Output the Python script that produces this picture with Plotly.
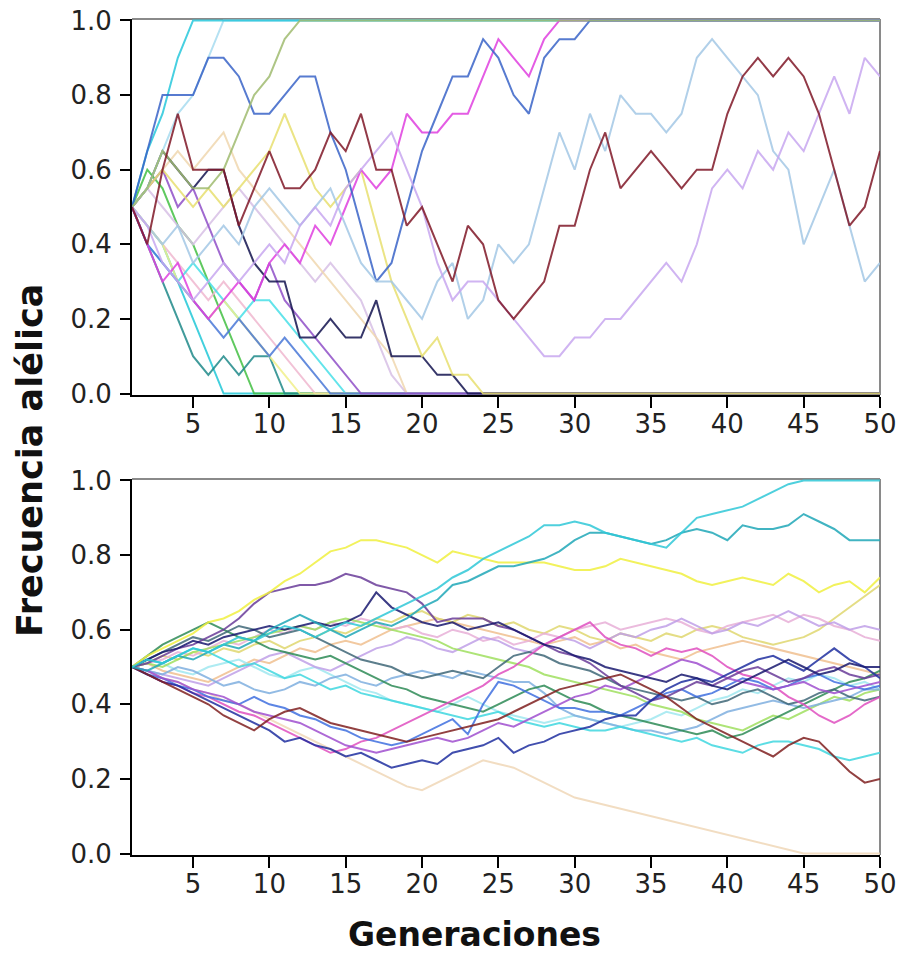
import plotly.graph_objects as go

# ---------------- data (allele frequency, percent) ----------------
GEN_TICKS = [5, 10, 15, 20, 25, 30, 35, 40, 45, 50]
Y_TICKS = [0.0, 0.2, 0.4, 0.6, 0.8, 1.0]
Y_TICK_LABELS = ["0.0", "0.2", "0.4", "0.6", "0.8", "1.0"]

# top panel: small population
T01 = [50,65,75,90,100,100,100,100,100,100,
       100,100,100,100,100,100,100,100,100,100,
       100,100,100,100,100,100,100,100,100,100,
       100,100,100,100,100,100,100,100,100,100,
       100,100,100,100,100,100,100,100,100,100]
T02 = [50,55,65,75,80,90,100,100,100,100,
       100,100,100,100,100,100,100,100,100,100,
       100,100,100,100,100,100,100,100,100,100,
       100,100,100,100,100,100,100,100,100,100,
       100,100,100,100,100,100,100,100,100,100]
T03 = [50,65,80,80,80,90,90,85,75,75,
       80,85,85,70,60,45,30,35,50,65,
       75,85,85,95,90,80,75,90,95,95,
       100,100,100,100,100,100,100,100,100,100,
       100,100,100,100,100,100,100,100,100,100]
T04 = [50,40,30,35,25,20,25,30,25,35,
       40,35,45,40,50,60,55,60,75,70,
       70,75,75,85,95,90,85,95,100,100,
       100,100,100,100,100,100,100,100,100,100,
       100,100,100,100,100,100,100,100,100,100]
T05 = [50,55,65,60,55,55,60,70,80,85,
       95,100,100,100,100,100,100,100,100,100,
       100,100,100,100,100,100,100,100,100,100,
       100,100,100,100,100,100,100,100,100,100,
       100,100,100,100,100,100,100,100,100,100]
T06 = [50,40,60,75,60,60,60,45,55,65,
       55,55,60,70,65,75,60,60,45,50,
       40,30,45,40,25,20,25,30,45,45,
       60,70,55,60,65,60,55,60,60,75,
       85,90,85,90,85,75,60,45,50,65]
T07 = [50,45,40,45,35,40,45,40,50,55,
       50,45,50,55,45,35,30,30,25,20,
       30,35,20,25,40,35,40,55,70,60,
       75,65,80,75,75,70,75,90,95,90,
       85,80,65,60,40,50,60,45,30,35]
T08 = [50,45,35,30,25,30,35,30,35,40,
       35,45,50,45,55,60,65,70,60,50,
       35,25,30,30,25,20,15,10,10,15,
       15,20,20,25,30,35,30,40,55,60,
       55,65,60,70,65,75,85,75,90,85]
T09 = [50,45,40,30,20,10,0,0,0,0,
       0,0,0,0,0,0,0,0,0,0,
       0,0,0,0,0,0,0,0,0,0,
       0,0,0,0,0,0,0,0,0,0,
       0,0,0,0,0,0,0,0,0,0]
T10 = [50,60,55,45,40,30,20,10,0,0,
       0,0,0,0,0,0,0,0,0,0,
       0,0,0,0,0,0,0,0,0,0,
       0,0,0,0,0,0,0,0,0,0,
       0,0,0,0,0,0,0,0,0,0]
T11 = [50,40,30,20,10,5,10,5,10,10,
       0,0,0,0,0,0,0,0,0,0,
       0,0,0,0,0,0,0,0,0,0,
       0,0,0,0,0,0,0,0,0,0,
       0,0,0,0,0,0,0,0,0,0]
T12 = [50,45,40,35,30,25,30,25,20,15,
       10,5,0,0,0,0,0,0,0,0,
       0,0,0,0,0,0,0,0,0,0,
       0,0,0,0,0,0,0,0,0,0,
       0,0,0,0,0,0,0,0,0,0]
T13 = [50,40,35,30,35,30,25,20,25,25,
       20,15,10,5,0,0,0,0,0,0,
       0,0,0,0,0,0,0,0,0,0,
       0,0,0,0,0,0,0,0,0,0,
       0,0,0,0,0,0,0,0,0,0]
T14 = [50,55,50,45,40,45,50,55,50,45,
       40,35,30,35,30,25,15,5,0,0,
       0,0,0,0,0,0,0,0,0,0,
       0,0,0,0,0,0,0,0,0,0,
       0,0,0,0,0,0,0,0,0,0]
T15 = [50,55,65,60,55,60,60,45,35,30,
       30,15,15,20,15,15,25,10,10,10,
       5,5,0,0,0,0,0,0,0,0,
       0,0,0,0,0,0,0,0,0,0,
       0,0,0,0,0,0,0,0,0,0]
T16 = [50,45,40,30,25,20,25,20,15,10,
       5,0,0,0,0,0,0,0,0,0,
       0,0,0,0,0,0,0,0,0,0,
       0,0,0,0,0,0,0,0,0,0,
       0,0,0,0,0,0,0,0,0,0]
T17 = [50,55,60,65,60,65,70,60,55,50,
       45,40,35,30,25,20,15,10,0,0,
       0,0,0,0,0,0,0,0,0,0,
       0,0,0,0,0,0,0,0,0,0,
       0,0,0,0,0,0,0,0,0,0]
T18 = [50,40,35,30,25,20,15,20,15,10,
       15,10,5,0,0,0,0,0,0,0,
       0,0,0,0,0,0,0,0,0,0,
       0,0,0,0,0,0,0,0,0,0,
       0,0,0,0,0,0,0,0,0,0]
T19 = [50,55,60,50,55,45,35,30,25,35,
       25,20,15,10,5,0,0,0,0,0,
       0,0,0,0,0,0,0,0,0,0,
       0,0,0,0,0,0,0,0,0,0,
       0,0,0,0,0,0,0,0,0,0]
T20 = [50,55,60,55,50,55,50,55,60,65,
       75,65,55,50,55,60,45,30,20,10,
       15,5,5,0,0,0,0,0,0,0,
       0,0,0,0,0,0,0,0,0,0,
       0,0,0,0,0,0,0,0,0,0]

# bottom panel: large population
B01 = [50,52,51,53,55,54,56,58,57,59, 61,60,58,60,62,61,63,65,67,69,
       71,74,76,79,81,83,85,88,88,89, 88,86,85,84,83,82,86,90,91,92,
       93,95,97,99,100,100,100,100,100,100]
B02 = [50,49,51,53,52,54,56,55,57,60, 62,64,62,60,58,60,62,61,63,66,
       68,72,73,75,77,77,78,79,81,84, 86,86,85,84,83,84,86,87,86,84,
       88,87,87,88,91,89,87,84,84,84]
B03 = [50,53,55,57,59,62,63,65,68,70, 73,75,78,81,82,84,84,83,82,80,
       78,81,80,79,78,78,78,78,77,76, 76,77,79,78,77,76,75,73,72,73,
       74,73,72,75,73,70,72,73,70,74]
B04 = [50,51,53,52,54,53,55,54,56,57, 55,57,58,60,59,61,63,62,64,65,
       63,62,64,63,61,62,60,59,61,60, 58,57,59,58,57,59,58,60,61,60,
       58,57,56,57,58,60,63,66,69,72]
B05 = [50,49,47,46,44,43,41,40,38,36, 34,32,30,28,26,24,22,20,18,17,
       19,21,23,25,24,23,21,19,17,15, 14,13,12,11,10,9,8,7,6,5,
       4,3,2,1,0,0,0,0,0,0]
B06 = [50,48,46,44,42,40,37,35,33,36, 38,39,37,35,34,33,32,31,30,31,
       32,33,34,35,36,38,40,42,44,45, 46,47,48,46,44,42,39,36,34,32,
       30,28,26,29,31,30,26,22,19,20]
B07 = [50,52,51,53,55,54,52,50,51,49, 47,48,46,44,45,43,42,41,40,39,
       38,37,36,37,38,36,35,34,35,34, 33,33,34,33,32,31,30,31,29,28,
       27,29,30,30,29,28,26,25,26,27]
B08 = [50,51,53,55,56,58,60,63,67,70, 71,72,72,73,75,74,72,71,70,67,
       62,63,63,63,61,60,58,56,54,53, 51,48,45,43,41,42,44,46,45,47,
       49,50,48,46,47,49,50,48,47,48]
B09 = [50,52,54,55,57,56,58,59,60,61, 60,61,62,61,62,64,70,66,64,62,
       61,62,60,61,62,60,58,56,55,53, 52,50,49,48,47,46,48,47,45,44,
       46,48,50,52,50,48,49,51,50,50]
B10 = [50,48,46,45,43,41,39,37,35,33, 30,31,29,28,26,27,25,23,24,25,
       24,27,28,29,31,27,29,30,32,33, 34,36,37,37,41,44,46,47,46,48,
       50,52,53,51,49,52,55,52,50,47]
B11 = [50,48,46,45,43,42,40,38,37,35, 33,31,29,27,28,30,31,33,35,37,
       39,41,43,45,48,50,53,56,58,60, 62,58,56,55,53,55,54,55,53,50,
       48,47,45,42,40,37,35,37,40,42]
B12 = [50,51,52,54,53,55,57,56,58,60, 59,61,60,62,61,63,62,60,61,59,
       58,60,59,57,58,56,57,59,58,60, 61,62,60,61,62,63,62,60,59,61,
       62,63,64,62,64,63,61,60,58,57]
B13 = [50,49,48,47,46,45,47,49,51,53, 54,52,50,49,51,53,55,56,58,57,
       55,54,56,58,57,55,54,56,58,57, 55,57,59,58,60,61,63,61,59,60,
       62,61,63,65,63,61,62,60,61,60]
B14 = [50,53,56,58,60,62,60,58,57,55, 54,53,52,53,51,49,47,45,44,42,
       41,40,39,38,40,42,44,45,43,41, 40,38,37,36,35,34,33,32,33,31,
       32,34,36,38,40,42,44,46,47,49]
B15 = [50,51,50,52,54,55,56,57,58,59, 60,61,60,62,63,62,61,60,59,58,
       57,55,54,53,52,51,50,48,47,46, 45,44,43,42,40,39,38,36,35,34,
       33,35,37,36,38,40,42,41,43,44]
B16 = [50,52,54,56,58,57,59,61,60,58, 59,60,58,56,54,52,51,50,48,47,
       48,49,48,47,50,53,54,53,51,50, 49,47,45,44,43,42,41,42,40,41,
       43,44,42,40,41,43,44,42,41,42]
B17 = [50,49,48,50,49,47,45,46,44,43, 44,46,45,47,48,46,45,47,48,49,
       48,47,49,48,47,46,46,43,39,37, 36,35,34,33,33,32,33,34,36,38,
       39,40,41,40,39,40,41,42,44,44]
B18 = [50,52,51,49,48,50,51,52,50,48, 47,49,50,48,46,44,43,41,40,39,
       38,40,42,40,38,37,36,35,36,37, 36,35,34,35,36,38,37,39,41,42,
       44,43,45,47,46,48,47,45,46,44]
B19 = [50,51,49,48,47,46,48,50,52,51, 53,55,54,56,57,56,58,60,61,62,
       63,62,61,60,59,58,57,56,57,58, 56,57,55,56,54,53,52,54,55,56,
       57,56,55,54,53,52,51,50,49,48]
B20 = [50,48,47,45,44,42,41,40,42,40, 39,37,36,34,33,31,30,29,30,32,
       34,36,32,40,46,45,43,41,39,39, 38,38,37,39,41,43,44,42,43,45,
       47,46,44,45,47,48,46,45,44,45]
B21 = [50,49,47,46,44,43,42,40,38,37, 36,35,33,31,29,28,27,28,29,30,
       31,30,31,33,35,34,36,38,40,42, 43,45,44,46,48,50,52,51,49,47,
       46,45,44,45,46,44,43,44,45,46]

TOP = [(T09, "#22c8d8"), (T10, "#44c044"), (T11, "#208a8a"), (T12, "#f0b8d0"),
       (T13, "#48e0e8"), (T14, "#d8c0e6"), (T16, "#f2f08a"), (T17, "#f0d8b0"),
       (T18, "#4a78d8"), (T19, "#9050c8"), (T15, "#141450"), (T20, "#e8e070"),
       (T02, "#a8dcf0"), (T01, "#28c8dc"), (T04, "#e040e0"), (T03, "#3a64c8"),
       (T05, "#a0bc70"), (T07, "#a4c8e6"), (T08, "#c8a8f0"), (T06, "#801828")]
BOTTOM = [(B05, "#f0d8b8"), (B19, "#f0c090"), (B18, "#a0e8f0"), (B04, "#e0d870"),
          (B12, "#e8b0d8"), (B13, "#c0a0e8"), (B15, "#a0e060"), (B17, "#80b0e0"),
          (B14, "#2e8b57"), (B16, "#406878"), (B07, "#40d8e0"), (B11, "#e050c0"),
          (B20, "#4070e0"), (B21, "#a050d0"), (B08, "#6a3d9a"), (B10, "#2030a0"),
          (B09, "#1a1a70"), (B06, "#802020"), (B03, "#f0f040"), (B02, "#20a8b8"),
          (B01, "#30c8d8")]

# ---------------- figure ----------------
fig = go.Figure()
for vals, col in TOP:
    fig.add_trace(go.Scatter(x=list(range(1, len(vals) + 1)), y=[v / 100 for v in vals],
                             mode="lines", line=dict(color=col, width=2), opacity=0.85,
                             xaxis="x", yaxis="y", showlegend=False, hoverinfo="skip"))
for vals, col in BOTTOM:
    fig.add_trace(go.Scatter(x=list(range(1, len(vals) + 1)), y=[v / 100 for v in vals],
                             mode="lines", line=dict(color=col, width=2), opacity=0.85,
                             xaxis="x2", yaxis="y2", showlegend=False, hoverinfo="skip"))

FONT = "DejaVu Sans"
tickfont = dict(family=FONT, size=26, color="#222")
xcommon = dict(range=[1, 50], tickvals=GEN_TICKS, ticks="outside", ticklen=11, tickwidth=2,
               tickcolor="black", showline=True, linecolor="black", linewidth=2,
               showgrid=False, zeroline=False, tickfont=tickfont, layer="below traces",
               automargin=False, ticklabeloverflow="allow", ticklabelstandoff=-6)
ycommon = dict(range=[-0.004, 1.004], tickvals=Y_TICKS, ticktext=Y_TICK_LABELS, ticks="outside",
               ticklen=10, tickwidth=2, tickcolor="black", showline=True, linecolor="black",
               linewidth=2, showgrid=False, zeroline=False, tickfont=tickfont,
               automargin=False, ticklabeloverflow="allow", ticklabelstandoff=3)

ph = 836.0
fig.update_layout(
    width=904, height=955,
    margin=dict(l=132, r=24, t=19, b=100, autoexpand=False),
    paper_bgcolor="white", plot_bgcolor="white",
    xaxis=dict(domain=[0, 1], anchor="y", **xcommon),
    yaxis=dict(domain=[1 - 376 / ph, 1], anchor="x", **ycommon),
    xaxis2=dict(domain=[0, 1], anchor="y2", **xcommon),
    yaxis2=dict(domain=[0, 376 / ph], anchor="x2", **ycommon),
)
for xr, yr in [("x domain", "y domain"), ("x2 domain", "y2 domain")]:
    fig.add_shape(type="line", xref=xr, yref=yr, x0=0, x1=1, y0=1, y1=1,
                  line=dict(color="#8a8a8a", width=2), layer="below")
    fig.add_shape(type="line", xref=xr, yref=yr, x0=1, x1=1, y0=0, y1=1,
                  line=dict(color="#8a8a8a", width=2), layer="below")

fig.add_annotation(text="<b>Frecuencia alélica</b>", xref="paper", yref="paper",
                   x=(30 - 132) / 748, y=(855 - 461) / ph, xanchor="center", yanchor="middle",
                   textangle=-90, showarrow=False,
                   font=dict(family=FONT, size=35, color="#111"))
fig.add_annotation(text="<b>Generaciones</b>", xref="paper", yref="paper",
                   x=(474 - 132) / 748, y=(855 - 934) / ph, xanchor="center", yanchor="middle",
                   showarrow=False, font=dict(family=FONT, size=33, color="#111"))

# remove the browser's default 8px body margin so the figure sits at the window origin
fig.write_html("out.html", config={"displayModeBar": False},
               post_script="document.body.style.margin='0px';")
